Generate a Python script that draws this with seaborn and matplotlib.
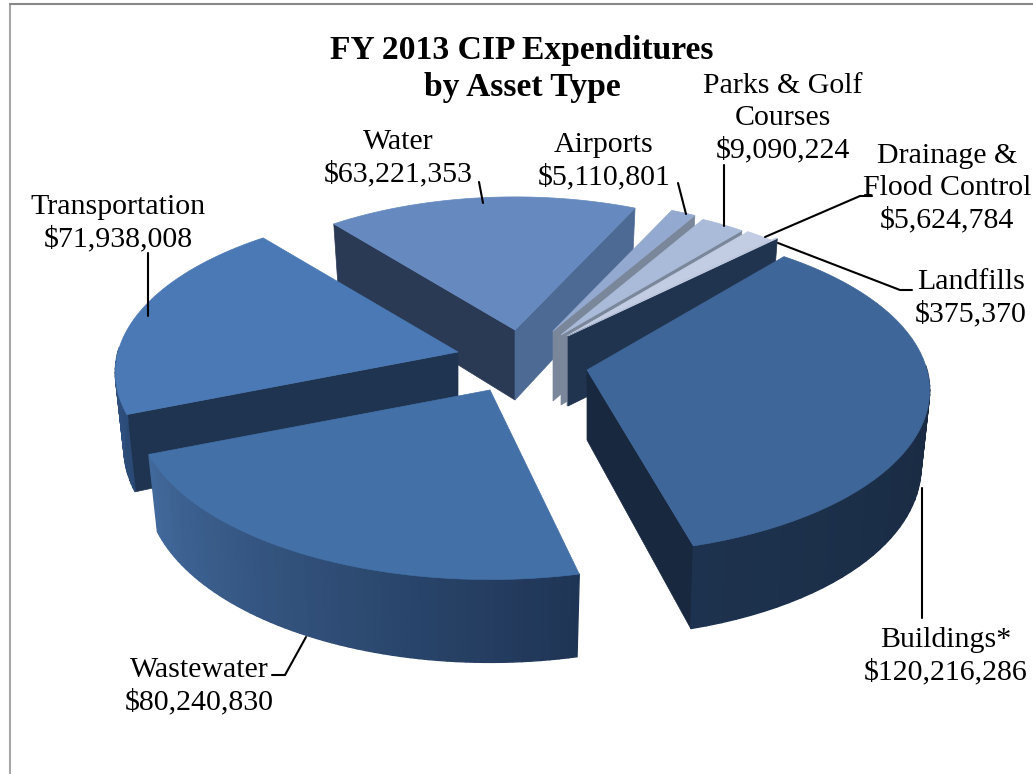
import numpy as np
import matplotlib
matplotlib.use("Agg")
import matplotlib.pyplot as plt
from matplotlib.patches import Polygon
import seaborn as sns

# Chart values, clockwise from the top of the pie
asset_types = ["Airports", "Parks & Golf\nCourses", "Drainage &\nFlood Control", "Landfills",
               "Buildings*", "Wastewater", "Transportation", "Water"]
amounts = [5110801, 9090224, 5624784, 375370, 120216286, 80240830, 71938008, 63221353]

sns.set_theme(style="white")
plt.rcParams["font.family"] = ["Liberation Serif", "DejaVu Serif"]

# Exploded slice geometry in pixels (style, not data)
apex = [(553, 331), (561, 335), (567, 336), (568, 336), (587, 370), (490, 390), (458, 352), (515, 330)]
scale = [0.92, 0.92, 0.92, 0.94, 1.0, 1.03, 1.0, 0.93]
warp_up = [0, 0, 0, 0, 6, 0, 0, 0]
warp_down = [0, 0, 0, 0, -7, 0, 0, 0]
top_colors = ["#94A9CF", "#A9BBD8", "#C2CDE3", "#C2CDE3", "#3F6699", "#4370A7", "#4A79B5", "#668ABF"]
start_cut = ["#7A8699", "#7A8699", "#7A8699", "#20344F", "#17283F", "#1F3450", "#1F3450", "#2A3A55"]
end_cut = ["#7A8699", "#7A8699", "#7A8699", "#20344F", "#17283F", "#1F3556", "#1F3450", "#4C6A94"]
wall_colors = [("#7A8699", "#7A8699")] * 4 + [("#1D324E", "#19293F"), ("#426A9C", "#1F3556"),
                                              ("#2F5080", "#2A4A75"), ("#4C6A94", "#4C6A94")]
draw_order = [7, 0, 1, 2, 3, 6, 4, 5]

RX, RY, PERSP, DEPTH = 340, 161, 0.125, 74
BOTTOM_SHRINK = 0.975
START_ANGLE = 65

fractions = np.array(amounts) / sum(amounts)
ends = START_ANGLE - np.cumsum(fractions) * 360
starts = ends + fractions * 360


def project(theta, i):
    theta = np.asarray(theta)
    w = np.where(theta > 0, warp_up[i], warp_down[i])
    t = np.radians(theta + w * np.sin(np.radians(2 * theta)))
    x, y = np.cos(t), np.sin(t)
    s = 1 / (1 + PERSP * y)
    return np.column_stack([apex[i][0] + scale[i] * RX * x * s, apex[i][1] - scale[i] * RY * y * s])


def lower(points, theta, i):
    # same rim on the underside of the slice, slightly smaller and further down
    pts = np.array(points, dtype=float)
    pts[..., 0] = apex[i][0] + (pts[..., 0] - apex[i][0]) * BOTTOM_SHRINK
    pts[..., 1] = pts[..., 1] + DEPTH * (1 - 0.12 * np.sin(np.radians(theta)))
    return pts


fig = plt.figure(figsize=(10.33, 7.74), dpi=100)
ax = fig.add_axes([0, 0, 1, 1])
ax.set_xlim(0, 1033)
ax.set_ylim(774, 0)
ax.axis("off")

# outer frame
ax.plot([9.5, 9.5], [774, 4], color="#A6A6A6", lw=1.5)
ax.plot([9.5, 1033], [4, 4], color="#888888", lw=1.5)

for i in draw_order:
    thetas = np.linspace(starts[i], ends[i], 60)
    arc = project(thetas, i)
    top = np.vstack([[apex[i]], arc])
    centre = top.mean(axis=0)
    a = np.array(apex[i], dtype=float)

    # flat cut faces, only when they face the viewer
    for theta, edge, col in [(starts[i], arc[0], start_cut[i]), (ends[i], arc[-1], end_cut[i])]:
        d = edge - a
        cross = d[0] * (centre[1] - a[1]) - d[1] * (centre[0] - a[0])
        if cross * d[0] < 0:
            ax.add_patch(Polygon([a, edge, lower(edge, theta, i), a + [0, DEPTH - 4]], fc=col, ec=col, lw=0.5))

    # curved wall, front half only, shaded left to right
    idx = np.where(np.sin(np.radians(thetas)) < 0.05)[0]
    if len(idx) > 1:
        shades = sns.blend_palette(wall_colors[i], n_colors=len(idx))
        rank = np.argsort(np.argsort(arc[idx, 0]))
        for n in range(len(idx) - 1):
            j = idx[n]
            ax.add_patch(Polygon([arc[j], arc[j + 1], lower(arc[j + 1], thetas[j + 1], i), lower(arc[j], thetas[j], i)],
                                 fc=shades[rank[n]], ec=shades[rank[n]], lw=1))

    ax.add_patch(Polygon(top, fc=top_colors[i], ec=top_colors[i], lw=0.5))

# leader lines
leaders = [
    ([479, 483], [182, 203]),
    ([678, 686], [183, 214]),
    ([724, 724], [165, 226]),
    ([872, 860, 765], [196, 196, 237]),
    ([912, 900, 778], [290, 290, 243]),
    ([922, 922], [488, 618]),
    ([272, 285, 306], [675, 675, 637]),
    ([148, 148], [253, 316]),
]
for xs, ys in leaders:
    ax.plot(xs, ys, color="black", lw=1.5, solid_joinstyle="miter")

# data labels
label_pos = [(604, 161), (783, 118), (947, 188), (971, 298), (946, 656), (199, 686), (118, 223), (398, 158)]
for name, value, (x, y) in zip(asset_types, amounts, label_pos):
    ax.text(x, y, f"{name}\n\\${value:,}", ha="center", va="center", fontsize=21.5,
            linespacing=1.28, color="black")

ax.text(522, 69, "FY 2013 CIP Expenditures\nby Asset Type", ha="center", va="center",
        fontsize=24.2, fontweight="bold", linespacing=1.28, color="black")

fig.savefig("out.png", dpi=100)
